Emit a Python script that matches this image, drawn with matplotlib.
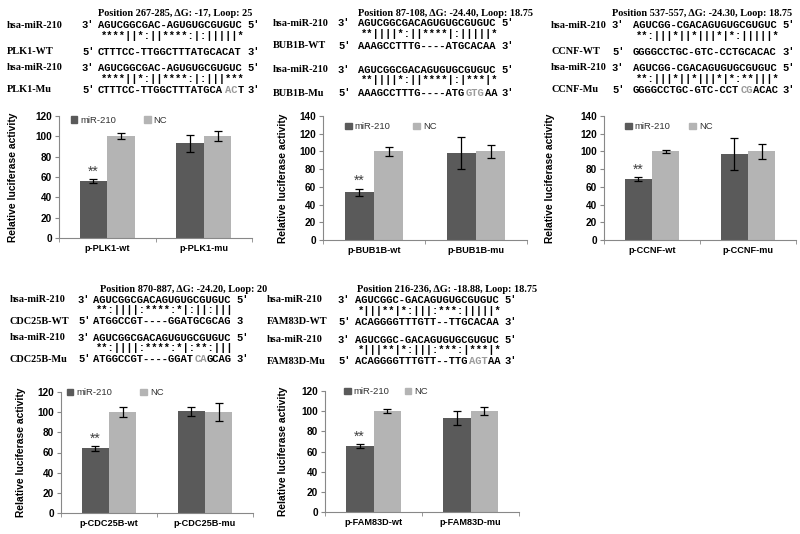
import numpy as np
import matplotlib
matplotlib.use("Agg")
import matplotlib.pyplot as plt
from matplotlib.patches import Patch
from matplotlib import transforms

W, H = 800, 534

# --- data ---
genes = ["PLK1", "BUB1B", "CCNF", "CDC25B", "FAM83D"]
positions = [
    "Position 267-285, \u0394G: -17, Loop: 25",
    "Position 87-108, \u0394G: -24.40, Loop: 18.75",
    "Position 537-557, \u0394G: -24.30, Loop: 18.75",
    "Position 870-887, \u0394G: -24.20, Loop: 20",
    "Position 216-236, \u0394G: -18.88, Loop: 18.75",
]
mir_seqs = [
    "AGUCGGCGAC-AGUGUGCGUGUC",
    "AGUCGGCGACAGUGUGCGUGUC",
    "AGUCGG-CGACAGUGUGCGUGUC",
    "AGUCGGCGACAGUGUGCGUGUC",
    "AGUCGGC-GACAGUGUGCGUGUC",
]
wt_seqs = [
    "CTTTCC-TTGGCTTTATGCACAT",
    "AAAGCCTTTG----ATGCACAA",
    "GGGGCCTGC-GTC-CCTGCACAC",
    "ATGGCCGT----GGATGCGCAG",
    "ACAGGGGTTTGTT--TTGCACAA",
]
mu_seqs = [
    "CTTTCC-TTGGCTTTATGCAACT",
    "AAAGCCTTTG----ATGGTGAA",
    "GGGGCCTGC-GTC-CCTCGACAC",
    "ATGGCCGT----GGATCAGCAG",
    "ACAGGGGTTTGTT--TTGAGTAA",
]
mu_changed = [(20, 22), (17, 20), (17, 19), (16, 18), (18, 21)]
wt_match = [
    "****||*:||****:|:|||||*",
    "**||||*:||****|:|||||*",
    "**:|||*||*|||*|*:|||||*",
    "**:||||:****:*|:||:|||",
    "*|||**|*:|||:***:|||||*",
]
mu_match = [
    "****||*:||****:|:|||***",
    "**||||*:||****|:|***|*",
    "**:|||*||*|||*|*:**|||*",
    "**:||||:****:*|:**:|||",
    "*|||**|*:|||:***:|***|*",
]
wt_end = ["3'", "3'", "3'", "3", "3'"]

mir_wt = [56, 54, 69, 64, 65]
mir_wt_err = [2, 4, 2, 2.5, 2]
nc_wt = [100, 100, 100, 100, 100]
nc_wt_err = [3, 5, 1.5, 5, 2]
mir_mu = [93, 98, 97, 101, 93]
mir_mu_err = [8, 18, 18.5, 4.5, 7]
nc_mu = [100, 100, 100, 100, 100]
nc_mu_err = [5, 7.5, 8.5, 9, 4]
ymax = [120, 140, 140, 120, 120]

# --- layout (pixels) ---
# axes box: left, top, right, bottom
ax_boxes = [(59, 116, 252, 238), (323, 116, 527, 240), (604, 116, 796, 240),
            (61, 392, 253, 513), (325, 391, 519, 512)]
# text columns: name x, prime x, seq x, position x
text_cols = [(7, 82, 98, 98), (273, 338, 358, 358), (551, 612, 633, 612),
             (10, 78, 93, 100), (267, 338, 355, 357)]
# rows: position, miR, match, WT, miR, match, Mu
text_rows = [(13, 25, 36, 52, 68, 79, 90), (13, 23, 34, 46, 70, 80, 93),
             (13, 25, 36, 52, 68, 79, 90), (289, 300, 310, 321, 338, 348, 359),
             (289, 300, 311, 322, 340, 350, 361)]
leg_anchor = [(0.06, 1.0), (0.11, 0.95), (0.11, 0.95), (0.03, 1.03), (0.1, 1.03)]
leg_space = [3.0, 2.4, 2.0, 3.0, 1.6]
ylab_x = [-0.212, -0.172, -0.255, -0.182, -0.19]

DARK = "#5a5a5a"
LIGHT = "#b4b4b4"
GRAY = "#9a9a9a"
SERIF = "Liberation Serif"
MONO = "Liberation Mono"
SANS = "Liberation Sans"
SEQ_FS = 7.6
CW = 0.6 * SEQ_FS * 100 / 72  # char width in px


def fx(x):
    return x / W


def fy(y):
    return 1 - y / H


fig = plt.figure(figsize=(8, 5.34), dpi=100)


def label(x, y, s, **kw):
    fig.text(fx(x), fy(y), s, fontfamily=SERIF, fontweight="bold",
             fontsize=7.4, va="center", ha="left", **kw)


def mono(x, y, s, color="black", off=0):
    tr = transforms.offset_copy(fig.transFigure, fig=fig,
                                x=off * 0.6 * SEQ_FS, y=0, units="points")
    fig.text(fx(x), fy(y), s, transform=tr, fontfamily=MONO, fontweight="bold",
             fontsize=SEQ_FS, va="center", ha="left", color=color)


def seq_line(x, y, seq, gray=None):
    if gray is None:
        mono(x, y, seq)
    else:
        a, b = gray
        mono(x, y, seq[:a])
        mono(x, y, seq[a:b], color=GRAY, off=a)
        mono(x, y, seq[b:], off=b)


for i, g in enumerate(genes):
    nx, px, sx, posx = text_cols[i]
    r = text_rows[i]
    label(posx, r[0], positions[i])
    # WT block
    label(nx, r[1], "hsa-miR-210")
    mono(px, r[1], "3'")
    seq_line(sx, r[1], mir_seqs[i])
    mono(sx + len(mir_seqs[i]) * CW + 4, r[1], "5'")
    mono(sx + 3, r[2], wt_match[i])
    label(nx, r[3], f"{g}-WT")
    mono(px, r[3], "5'")
    seq_line(sx, r[3], wt_seqs[i])
    mono(sx + len(wt_seqs[i]) * CW + 4, r[3], wt_end[i])
    # Mu block
    label(nx, r[4], "hsa-miR-210")
    mono(px, r[4], "3'")
    seq_line(sx, r[4], mir_seqs[i])
    mono(sx + len(mir_seqs[i]) * CW + 4, r[4], "5'")
    mono(sx + 3, r[5], mu_match[i])
    label(nx, r[6], f"{g}-Mu")
    mono(px, r[6], "5'")
    seq_line(sx, r[6], mu_seqs[i], gray=mu_changed[i])
    mono(sx + len(mu_seqs[i]) * CW + 4, r[6], "3'")

    # bar chart
    l, t, rr, b = ax_boxes[i]
    ax = fig.add_axes([fx(l), fy(b), (rr - l) / W, (b - t) / H])
    x = np.arange(2)
    w = 0.285
    ekw = dict(ecolor="black", elinewidth=0.9, capsize=3.2, capthick=0.9)
    ax.bar(x - w / 2, [mir_wt[i], mir_mu[i]], w,
           yerr=[mir_wt_err[i], mir_mu_err[i]], color=DARK, error_kw=ekw)
    ax.bar(x + w / 2, [nc_wt[i], nc_mu[i]], w,
           yerr=[nc_wt_err[i], nc_mu_err[i]], color=LIGHT, error_kw=ekw)
    ax.annotate("**", xy=(-w / 2, mir_wt[i] + mir_wt_err[i]), xytext=(0, 5.5),
                textcoords="offset points", ha="center", va="center",
                fontsize=10, fontfamily=SANS, color="#404040")
    ax.set_xlim(-0.5, 1.5)
    ax.set_ylim(0, ymax[i])
    ax.set_yticks(range(0, ymax[i] + 1, 20))
    ax.set_xticks(x)
    ax.set_xticklabels([f"p-{g}-wt", f"p-{g}-mu"])
    ax.set_xticks([-0.5, 0.5, 1.5], minor=True)
    for sp in ["top", "right"]:
        ax.spines[sp].set_visible(False)
    for sp in ["left", "bottom"]:
        ax.spines[sp].set_color("#888888")
        ax.spines[sp].set_linewidth(0.8)
    ax.tick_params(axis="x", which="major", length=0, pad=4)
    ax.tick_params(axis="x", which="minor", length=3, color="#888888")
    ax.tick_params(axis="y", length=3, color="#888888", pad=2)
    for lab in ax.get_xticklabels():
        lab.set_fontfamily(SANS)
        lab.set_fontweight("bold")
        lab.set_fontsize(6.6)
    for lab in ax.get_yticklabels():
        lab.set_fontfamily(SANS)
        lab.set_fontweight("bold")
        lab.set_fontsize(7.2)
    ax.set_ylabel("Relative luciferase activity", fontfamily=SANS,
                  fontweight="bold", fontsize=7.4)
    ax.yaxis.set_label_coords(ylab_x[i], 0.5)
    handles = [Patch(color=DARK, label="miR-210"), Patch(color=LIGHT, label="NC")]
    leg = ax.legend(handles=handles, ncol=2, frameon=False, loc="upper left",
                    bbox_to_anchor=leg_anchor[i],
                    handlelength=0.7, handleheight=0.7, handletextpad=0.3,
                    columnspacing=leg_space[i], borderaxespad=0, borderpad=0,
                    prop={"family": SANS, "size": 6.8})
    for txt in leg.get_texts():
        txt.set_color("#333333")

fig.savefig("out.png", dpi=100)
